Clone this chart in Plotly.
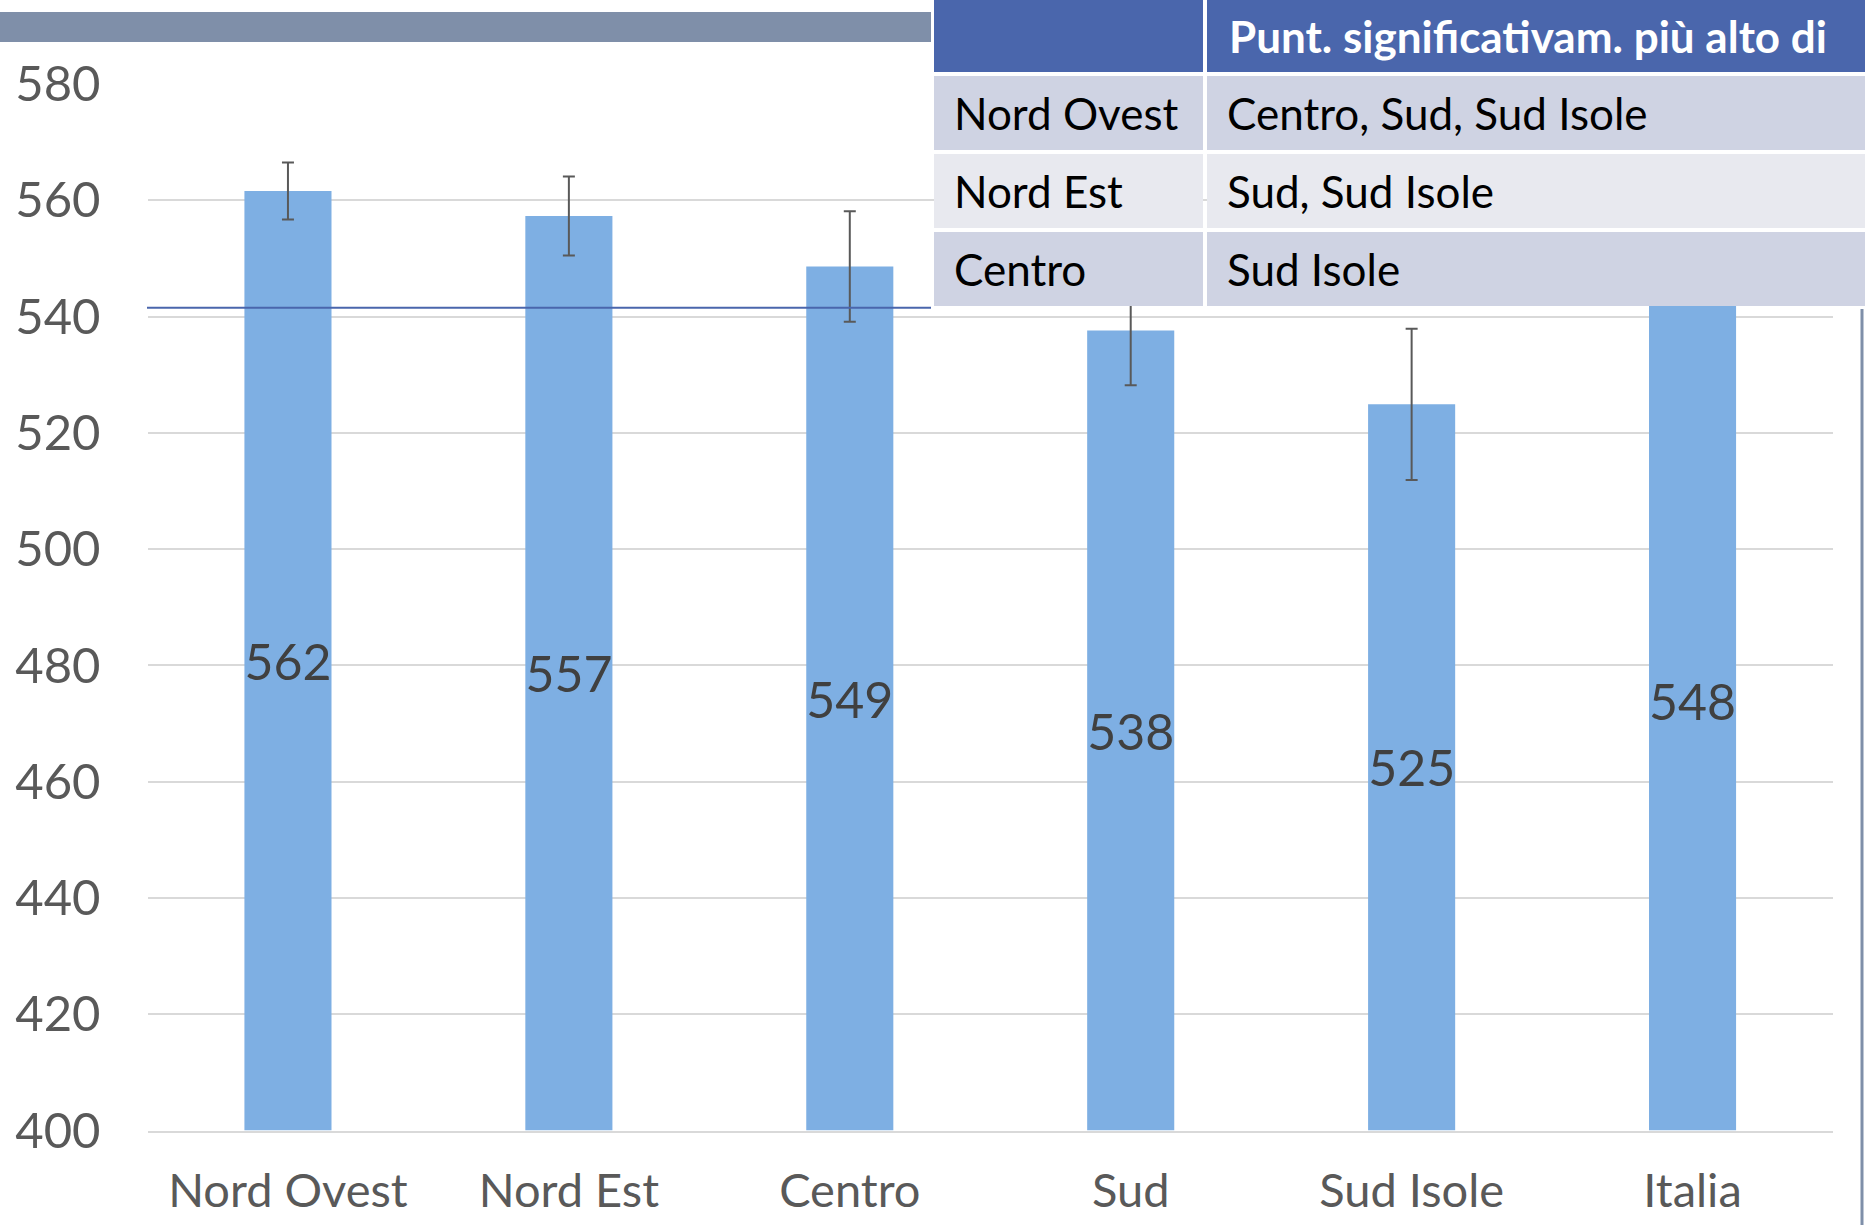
import plotly.graph_objects as go

# data
regions = ["Nord Ovest", "Nord Est", "Centro", "Sud", "Sud Isole", "Italia"]
scores = [561.6, 557.3, 548.6, 537.6, 524.9, 547.6]
errors = [4.9, 6.8, 9.5, 9.4, 13.0, 2.6]
ref_line = 541.5
y_ticks = [400, 420, 440, 460, 480, 500, 520, 540, 560, 580]

table_head = ["", "Punt. significativam. più alto di"]
table_rows = ["Nord Ovest", "Nord Est", "Centro"]
table_higher = ["Centro, Sud, Sud Isole", "Sud, Sud Isole", "Sud Isole"]
row_fills = ["#CFD3E3", "#E8E9EF", "#CFD3E3"]

W, H = 1865, 1225
FONT = "Lato, 'Open Sans', sans-serif"
base_val = y_ticks[0]


def px(x):
    return x / W


def py(y):
    return 1 - y / H


bar = go.Bar(
    x=regions,
    y=[s - base_val for s in scores],
    base=base_val,
    marker=dict(color="#7EAFE3", line=dict(width=0)),
    width=0.31,
    text=[f"{s:.0f}" for s in scores],
    textposition="inside",
    insidetextanchor="middle",
    constraintext="none",
    textangle=0,
    textfont=dict(size=50, color="#404040", family=FONT),
    error_y=dict(type="data", array=errors, color="#595959", thickness=2, width=6),
    hovertemplate="%{x}: %{text}<extra></extra>",
    showlegend=False,
)

fig = go.Figure(data=[bar])

shapes = [
    # grey band at top left
    dict(type="rect", xref="paper", yref="paper", x0=0, x1=px(931),
         y0=py(42), y1=py(12), fillcolor="#7F8FA9", line=dict(width=0), layer="above"),
    # reference line
    dict(type="line", xref="paper", yref="y", x0=px(147), x1=px(931),
         y0=ref_line, y1=ref_line, line=dict(color="#4A66AC", width=2), layer="above"),
    # right edge line
    dict(type="line", xref="paper", yref="paper", x0=px(1862), x1=px(1862),
         y0=0, y1=py(309), line=dict(color="#7F8FA9", width=3), layer="above"),
]
annotations = []

# small table in the top right corner
col_x = [(934, 1203), (1207, 1865)]
head_y = (0, 72)
row_top, row_h, row_pitch = 76, 74, 78

for (x0, x1), h in zip(col_x, table_head):
    shapes.append(dict(type="rect", xref="paper", yref="paper", x0=px(x0), x1=px(x1),
                       y0=py(head_y[1]), y1=py(head_y[0]), fillcolor="#4A66AC",
                       line=dict(width=0), layer="above"))
    if h:
        annotations.append(dict(xref="paper", yref="paper", x=px(x0 + 20), y=py(sum(head_y) / 2),
                                text=f"<b>{h}</b>", showarrow=False, xanchor="left", yanchor="middle",
                                font=dict(size=44, color="white", family=FONT)))

for i, (name, higher) in enumerate(zip(table_rows, table_higher)):
    y0 = row_top + i * row_pitch
    y1 = y0 + row_h
    for (x0, x1), txt in zip(col_x, [name, higher]):
        shapes.append(dict(type="rect", xref="paper", yref="paper", x0=px(x0), x1=px(x1),
                           y0=py(y1), y1=py(y0), fillcolor=row_fills[i],
                           line=dict(width=0), layer="above"))
        annotations.append(dict(xref="paper", yref="paper", x=px(x0 + 18), y=py((y0 + y1) / 2),
                                text=txt, showarrow=False, xanchor="left", yanchor="middle",
                                font=dict(size=44, color="black", family=FONT)))

fig.update_layout(
    width=W,
    height=H,
    template="none",
    paper_bgcolor="white",
    plot_bgcolor="white",
    margin=dict(l=0, r=0, t=0, b=0),
    font=dict(family=FONT, color="#595959"),
    bargap=0.69,
    shapes=shapes,
    annotations=annotations,
)

fig.update_xaxes(
    domain=[px(147.5), px(1833)],
    range=[-0.5, 5.5],
    showgrid=False,
    showline=True,
    linecolor="#D9D9D9",
    linewidth=2,
    ticks="",
    ticklabelstandoff=18,
    tickfont=dict(size=47, color="#595959"),
    automargin=False,
)
fig.update_yaxes(
    domain=[py(1130.5), py(84)],
    range=[400, 580],
    tickvals=y_ticks,
    showgrid=True,
    gridcolor="#D9D9D9",
    gridwidth=2,
    zeroline=False,
    showline=False,
    ticks="",
    ticklabelstandoff=46,
    tickfont=dict(size=49, color="#595959"),
    automargin=False,
)

fig.write_html("out.html", config={"displayModeBar": False},
               post_script="document.body.style.margin='0';")
